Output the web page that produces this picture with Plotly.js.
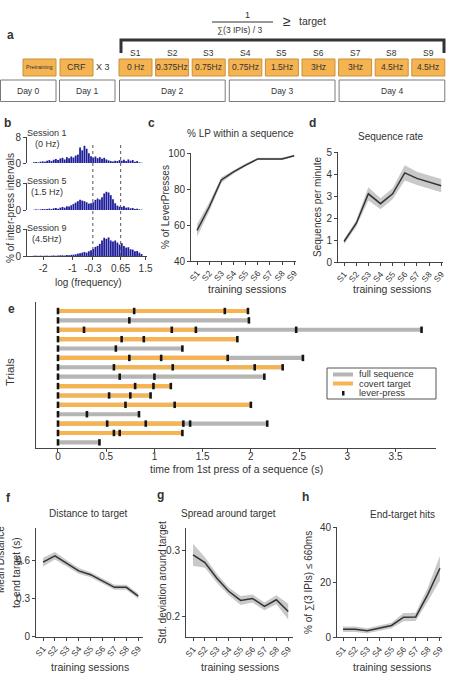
<!DOCTYPE html>
<html>
<head>
<meta charset="utf-8">
<script src="https://cdn.plot.ly/plotly-3.0.1.min.js"></script>
<style>html,body{margin:0;padding:0;background:#fff}#fig{width:449px;height:677px}</style>
</head>
<body>
<div id="fig"></div>
<script>
// ---------- data ----------
// a: training protocol
const protocolSessions = ['S1','S2','S3','S4','S5','S6','S7','S8','S9'];
const sessionTargets = ['0 Hz','0.375Hz','0.75Hz','0.75Hz','1.5Hz','3Hz','3Hz','4.5Hz','4.5Hz'];
const dayLabels = ['Day 0','Day 1','Day 2','Day 3','Day 4'];

// b: inter-press interval histograms (% per log-frequency bin)
const histBinStart = -2.35, histBinWidth = 0.075;
const ipiSession1 = [0.2,0.3,0.2,0.4,0.5,0.4,0.7,0.9,0.6,1.0, 1.2,0.9,1.4,1.6,1.1,1.8,1.5,2.0,1.7,2.3,
  2.6,4.8,3.9,5.3,4.4,3.0,2.1,1.6,2.0,1.5, 1.8,1.3,1.6,1.1,0.8,0.6,0.5,0.7,0.6,0.9,
  0.7,1.0,0.6,1.1,0.7,0.9,0.4,0.6,0.2,0.1];
const ipiSession5 = [0.1,0.2,0.1,0.2,0.3,0.2,0.3,0.4,0.3,0.5, 0.6,0.4,0.7,0.9,0.7,1.1,1.0,1.4,1.8,2.2,
  2.6,3.0,2.8,2.6,2.3,1.9,2.0,2.3,3.0,3.4, 3.1,3.8,4.9,5.4,5.2,4.4,3.2,2.0,1.3,1.0,
  0.9,1.2,0.7,0.8,0.5,0.6,0.3,0.4,0.2,0.1];
const ipiSession9 = [0.05,0.1,0.05,0.1,0.05,0.1,0.1,0.05,0.1,0.15, 0.1,0.15,0.2,0.2,0.15,0.3,0.25,0.35,0.4,0.5,
  0.7,0.8,1.0,1.2,1.0,1.4,1.7,2.1,2.7,3.0, 3.6,4.6,5.4,5.1,5.5,4.6,4.3,4.6,4.0,3.4,
  3.8,3.0,2.5,2.6,2.0,1.9,1.4,1.5,1.0,0.6];
const histSessionNames = ['Session 1','Session 5','Session 9'];
const histSessionRates = ['(0 Hz)','(1.5 Hz)','(4.5Hz)'];
const targetLines = [-0.3, 0.65];
const logFreqTicks = [-2,-1,-0.3,0.65,1.5];
const logFreqTickText = ['-2','-1','-0.3','0.65','1.5'];

// c, d, f, g, h: session means with shaded error
const lpMean = [57,70,85,89.5,93.3,96.7,96.7,96.7,98.5];
const lpErr = [3.5,2.5,1.5,1,0.8,0.6,0.6,0.6,0.5];
const rateMean = [0.93,1.75,3.1,2.65,3.1,4.05,3.8,3.65,3.47];
const rateErr = [0.12,0.15,0.3,0.25,0.25,0.35,0.3,0.3,0.3];
const distMean = [0.59,0.64,0.58,0.52,0.49,0.44,0.39,0.39,0.32];
const distErr = [0.035,0.03,0.025,0.022,0.02,0.02,0.02,0.02,0.02];
const spreadMean = [0.294,0.282,0.258,0.238,0.224,0.227,0.215,0.225,0.207];
const spreadErr = [0.017,0.008,0.007,0.006,0.007,0.006,0.006,0.007,0.012];
const hitsMean = [2.8,2.8,2.3,3.2,4.2,7.2,7.3,15.5,25];
const hitsErr = [1,1,0.9,1,1,1.5,1.5,2.5,4.5];

// e: example sequences (press times, s) and first press of the window hitting the target
const trialPresses = [
  [0,0.79,1.73,1.97],
  [0,0.74,1.98],
  [0,0.27,1.18,1.43,2.47,3.77],
  [0,0.66,0.89,1.86],
  [0,0.60,1.29],
  [0,0.74,1.07,1.76,2.54],
  [0,0.58,1.19,2.04,2.33],
  [0,0.64,1.00,2.14],
  [0,0.80,0.99,1.17],
  [0,0.53,0.75,0.96],
  [0,0.70,1.21,2.00],
  [0,0.30,0.84],
  [0,0.51,0.91,1.30,1.37,2.17],
  [0,0.58,0.64,1.29],
  [0,0.43]
];
const trialTargetStart = [0,null,0,0,null,0,1,null,0,0,0,null,0,0,null];
const timeTicks = [0,0.5,1,1.5,2,2.5,3,3.5];

// ---------- helpers ----------
const W = 449, H = 677;
const FONT = 'Liberation Sans, Arial, Helvetica, sans-serif';
const INK = '#333';
const AX = '#444';
const ORANGE = '#f5b451';
const GREY = '#b5b5b5';
const BAND = '#c9c9c9';
const px = x => x / W, py = y => 1 - y / H;

const shapes = [], annotations = [], traces = [];
function txt(x, y, text, size, extra) {
  annotations.push(Object.assign({
    xref: 'paper', yref: 'paper', x: px(x), y: py(y), text: text, showarrow: false,
    font: {family: FONT, size: size || 10, color: INK}, xanchor: 'center', yanchor: 'middle'
  }, extra || {}));
}
function rect(x0, y0, x1, y1, fill, line, lw) {
  shapes.push({type: 'rect', xref: 'paper', yref: 'paper', x0: px(x0), x1: px(x1), y0: py(y1), y1: py(y0),
    fillcolor: fill, line: {color: line, width: lw == null ? 1 : lw}});
}
function seg(x0, y0, x1, y1, color, w) {
  shapes.push({type: 'line', xref: 'paper', yref: 'paper', x0: px(x0), x1: px(x1), y0: py(y0), y1: py(y1),
    line: {color: color, width: w}});
}

// ---------- panel a ----------
txt(10, 35, '<b>a</b>', 12);
txt(247, 15, '1', 9);
seg(212, 22, 273, 22, INK, 1);
txt(240, 29.5, '∑(3 IPIs) / 3', 8.5);
txt(287, 21, '≥', 14);
txt(312, 21, 'target', 10.5);
shapes.push({type: 'path', xref: 'paper', yref: 'paper',
  path: `M ${px(121)} ${py(53)} L ${px(121)} ${py(40)} L ${px(444)} ${py(40)} L ${px(444)} ${py(53)}`,
  line: {color: '#333', width: 3}});

const boxTop = 59, boxBot = 76, sPitch = 36.6, sLeft = 119, sW = 33;
rect(23, boxTop, 56, boxBot, ORANGE, '#c8913a', 1);
txt(39.5, 67.5, 'Pretraining', 5.5);
rect(60, boxTop, 93, boxBot, ORANGE, '#c8913a', 1);
txt(76.5, 67.5, 'CRF', 9);
txt(103, 67.5, 'X 3', 9);
protocolSessions.forEach((s, i) => {
  const x0 = sLeft + i * sPitch;
  rect(x0, boxTop, x0 + sW, boxBot, ORANGE, '#c8913a', 1);
  txt(x0 + sW / 2, 67.5, sessionTargets[i], 8.5);
  txt(x0 + sW / 2, 53, s, 8.5);
});
const dayBoxes = [[0, 56], [59, 115], [119, sLeft + 2 * sPitch + sW], [sLeft + 3 * sPitch, sLeft + 5 * sPitch + sW], [sLeft + 6 * sPitch, sLeft + 8 * sPitch + sW]];
dayLabels.forEach((d, i) => {
  const [x0, x1] = dayBoxes[i];
  rect(x0 + 0.5, 80, x1, 101.5, '#fff', '#7a7a7a', 1);
  txt((x0 + x1) / 2, 91, d, 8.5);
});

// ---------- panel b ----------
txt(7, 123, '<b>b</b>', 12);
const binCenters = ipiSession1.map((_, i) => histBinStart + histBinWidth * (i + 0.5));
const histData = [ipiSession1, ipiSession5, ipiSession9];
const histRows = [[137, 163], [183, 210], [229, 256]];
const histLabelY = [[133, 143.5], [181, 192], [228, 239]];
const layoutAxes = {};
histData.forEach((vals, k) => {
  const n = k + 1;
  const xa = n === 1 ? 'x' : 'x' + n, ya = n === 1 ? 'y' : 'y' + n;
  traces.push({type: 'bar', x: binCenters, y: vals, width: histBinWidth * 0.82, xaxis: xa, yaxis: ya,
    marker: {color: '#1e1e9a', line: {width: 0}}, showlegend: false});
  const last = n === 3;
  layoutAxes[n === 1 ? 'xaxis' : 'xaxis' + n] = {
    domain: [px(27), px(147)], range: [-2.55, 1.55], anchor: ya, fixedrange: true,
    showline: last, linecolor: AX, linewidth: 1, showgrid: false, zeroline: false,
    ticks: last ? 'outside' : '', ticklen: 3, tickcolor: AX,
    showticklabels: last, tickvals: logFreqTicks, ticktext: logFreqTickText,
    tickfont: {family: FONT, size: 10, color: INK}
  };
  layoutAxes[n === 1 ? 'yaxis' : 'yaxis' + n] = {
    domain: [py(histRows[k][1]), py(histRows[k][0])], range: [0, 8], anchor: xa,
    showline: true, linecolor: AX, linewidth: 1, showgrid: false, zeroline: false,
    ticks: 'outside', ticklen: 3, tickcolor: AX, tickvals: [0, 8],
    tickfont: {family: FONT, size: 10, color: INK}
  };
  txt(47, histLabelY[k][0], histSessionNames[k], 9);
  txt(47, histLabelY[k][1], histSessionRates[k], 9);
});
targetLines.forEach(v => {
  shapes.push({type: 'line', xref: 'x3', yref: 'paper', x0: v, x1: v, y0: py(256), y1: py(143),
    line: {color: '#555', width: 1, dash: '3px,3px'}});
});
txt(11, 208, '% of inter-press intervals', 10, {textangle: -90});
txt(88, 283, 'log (frequency)', 10);

// ---------- session panels ----------
const sessionX = protocolSessions.map((_, i) => i + 1);
function sessionPanel(n, letter, box, xr, yr, ticks, tickText, mean, err, title) {
  const xa = 'x' + n, ya = 'y' + n;
  const lo = mean.map((m, i) => m - err[i]), hi = mean.map((m, i) => m + err[i]);
  traces.push({type: 'scatter', mode: 'lines', x: sessionX, y: lo, xaxis: xa, yaxis: ya,
    line: {width: 0, color: BAND}, showlegend: false, hoverinfo: 'skip'});
  traces.push({type: 'scatter', mode: 'lines', x: sessionX, y: hi, xaxis: xa, yaxis: ya,
    line: {width: 0, color: BAND}, fill: 'tonexty', fillcolor: BAND, showlegend: false, hoverinfo: 'skip'});
  traces.push({type: 'scatter', mode: 'lines', x: sessionX, y: mean, xaxis: xa, yaxis: ya,
    line: {width: 1.5, color: '#333'}, showlegend: false});
  layoutAxes['xaxis' + n] = {
    domain: [px(box[0]), px(box[1])], range: xr, anchor: ya,
    showline: true, linecolor: AX, linewidth: 1, showgrid: false, zeroline: false,
    ticks: 'outside', ticklen: 3, tickcolor: AX, tickvals: sessionX, ticktext: protocolSessions,
    tickangle: -50, tickfont: {family: FONT, size: 8.5, color: INK}
  };
  layoutAxes['yaxis' + n] = {
    domain: [py(box[3]), py(box[2])], range: yr, anchor: xa,
    showline: true, linecolor: AX, linewidth: 1, showgrid: false, zeroline: false,
    ticks: 'outside', ticklen: 3, tickcolor: AX, tickvals: ticks, ticktext: tickText,
    tickfont: {family: FONT, size: 10, color: INK}
  };
  txt(letter[1], letter[2], '<b>' + letter[0] + '</b>', 12);
  txt(title[1], title[2], title[0], 10);
}

// c
sessionPanel(4, ['c', 151, 123], [191, 296, 153, 261], [0.5, 9.15], [40, 100], [40, 60, 80, 100], ['40', '60', '80', '100'],
  lpMean, lpErr, ['% LP within a sequence', 240, 134]);
txt(165, 207, '% of LeverPresses', 10, {textangle: -90});
txt(247, 289, 'training sessions', 10.5);
// d
sessionPanel(5, ['d', 312, 123], [338, 443, 152, 262], [0.5, 9.15], [0, 5], [0, 1, 2, 3, 4, 5], ['0', '1', '2', '3', '4', '5'],
  rateMean, rateErr, ['Sequence rate', 390, 136]);
txt(317, 207, 'Sequences per minute', 10, {textangle: -90});
txt(392, 289, 'training sessions', 10.5);
// f
sessionPanel(7, ['f', 8, 498], [36, 143, 528, 636.5], [0.41, 9.4], [0, 0.86], [0, 0.3, 0.6], ['0', '0.3', '0.6'],
  distMean, distErr, ['Distance to target', 88, 513]);
txt(0, 560, 'Mean Distance', 10, {textangle: -90});
txt(16, 573, 'to end target (s)', 10, {textangle: -90});
txt(90, 667, 'training sessions', 10.5);
// g
sessionPanel(8, ['g', 160, 495], [186, 293, 528, 637], [0.41, 9.4], [0.168, 0.335], [0.2, 0.3], ['0.2', '0.3'],
  spreadMean, spreadErr, ['Spread around target', 228, 513]);
txt(162, 583, 'Std. deviation around target', 10, {textangle: -90});
txt(240, 667, 'training sessions', 10.5);
// h
sessionPanel(9, ['h', 305, 497], [337, 442, 527, 637], [0.5, 9.17], [0, 40], [0, 20, 40], ['0', '20', '40'],
  hitsMean, hitsErr, ['End-target hits', 402, 514]);
txt(308, 583, '% of ∑(3 IPIs) ≤ 660ms', 10, {textangle: -90});
txt(392, 667, 'training sessions', 10.5);

// ---------- panel e ----------
txt(11, 309, '<b>e</b>', 12);
const rowIdx = trialPresses.map((_, i) => i + 1);
traces.push({type: 'bar', orientation: 'h', xaxis: 'x6', yaxis: 'y6', y: rowIdx,
  x: trialPresses.map(p => p[p.length - 1]), base: 0, width: 0.44,
  marker: {color: GREY, line: {width: 0}}, showlegend: false});
const tgtRows = [], tgtBase = [], tgtLen = [];
trialTargetStart.forEach((s, i) => {
  if (s === null) return;
  const p = trialPresses[i];
  tgtRows.push(i + 1); tgtBase.push(p[s]); tgtLen.push(p[s + 3] - p[s]);
});
traces.push({type: 'bar', orientation: 'h', xaxis: 'x6', yaxis: 'y6', y: tgtRows, x: tgtLen, base: tgtBase,
  width: 0.44, marker: {color: ORANGE, line: {width: 0}}, showlegend: false});
const pressX = [], pressY = [];
trialPresses.forEach((p, i) => p.forEach(t => { pressX.push(t); pressY.push(i + 1); }));
traces.push({type: 'scatter', mode: 'markers', xaxis: 'x6', yaxis: 'y6', x: pressX, y: pressY,
  marker: {symbol: 'line-ns', size: 4.6, line: {width: 2.6, color: '#151515'}}, showlegend: false});
layoutAxes.xaxis6 = {
  domain: [px(36), px(436)], range: [-0.228, 3.92], anchor: 'y6',
  showline: true, linecolor: AX, linewidth: 1, showgrid: false, zeroline: false,
  ticks: 'outside', ticklen: 3, tickcolor: AX, tickvals: timeTicks, ticklabelstandoff: -4,
  tickfont: {family: FONT, size: 10, color: INK}
};
layoutAxes.yaxis6 = {
  domain: [py(448), py(302)], range: [15.6, 0.04], anchor: 'x6',
  showline: true, linecolor: AX, linewidth: 1, showgrid: false, zeroline: false,
  ticks: '', showticklabels: false
};
txt(10, 372, 'Trials', 11.5, {textangle: -90});
txt(236, 469, 'time from 1st press of a sequence (s)', 10.5);
// legend
rect(327, 368, 436, 399, 'rgba(0,0,0,0)', '#555', 1);
seg(333, 374.5, 353, 374.5, GREY, 4);
seg(333, 383.5, 353, 383.5, ORANGE, 4);
rect(342, 391, 344.5, 395.5, '#151515', '#151515', 0);
txt(357, 374, 'full sequence', 9.3, {xanchor: 'left'});
txt(357, 383.5, 'covert target', 9.3, {xanchor: 'left'});
txt(357, 393, 'lever-press', 9.3, {xanchor: 'left'});

const layout = Object.assign({
  width: W, height: H, margin: {l: 0, r: 0, t: 0, b: 0},
  paper_bgcolor: '#fff', plot_bgcolor: 'rgba(0,0,0,0)',
  barmode: 'overlay', showlegend: false, hovermode: false,
  font: {family: FONT, size: 10, color: INK},
  shapes: shapes, annotations: annotations
}, layoutAxes);

Plotly.newPlot('fig', traces, layout, {staticPlot: true, displayModeBar: false});
</script>
</body>
</html>
